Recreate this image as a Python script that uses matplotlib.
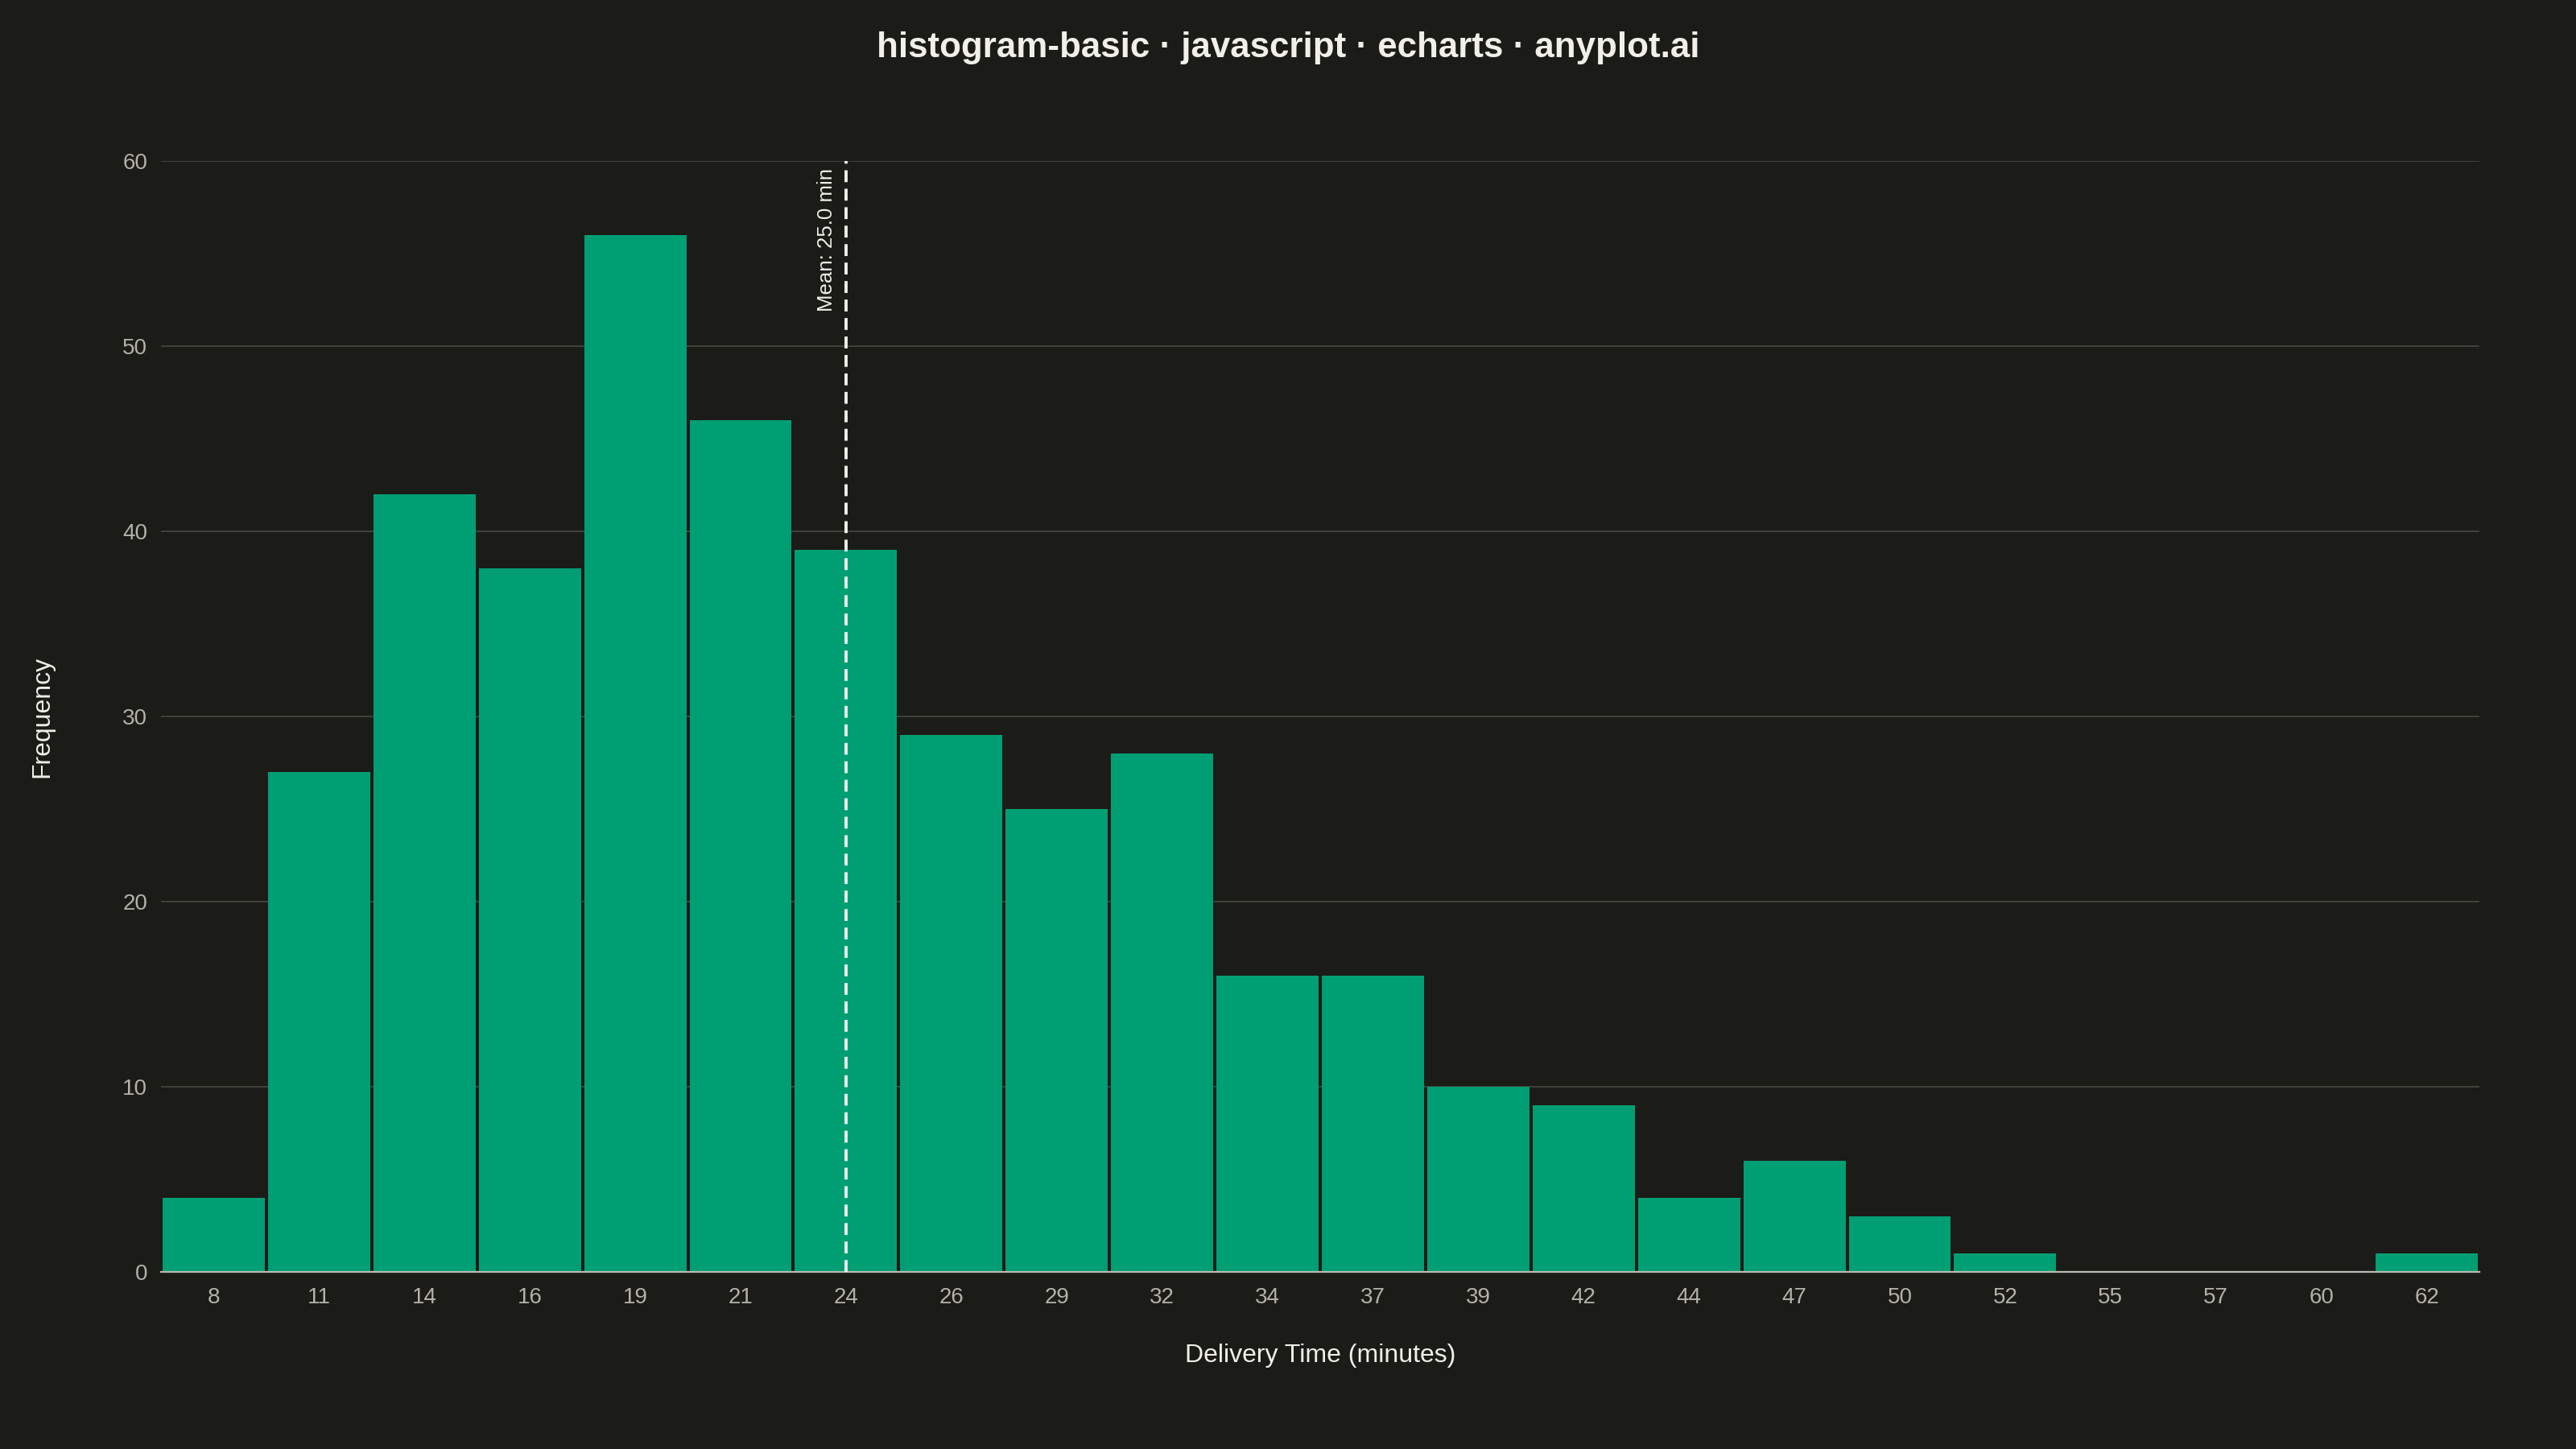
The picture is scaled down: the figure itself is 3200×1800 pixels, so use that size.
import matplotlib
matplotlib.use("Agg")
import matplotlib.pyplot as plt
import numpy as np

bin_labels = ["8", "11", "14", "16", "19", "21", "24", "26", "29", "32", "34",
              "37", "39", "42", "44", "47", "50", "52", "55", "57", "60", "62"]
frequencies = [4, 27, 42, 38, 56, 46, 39, 29, 25, 28, 16,
               16, 10, 9, 4, 6, 3, 1, 0, 0, 0, 1]
mean_value = 25.0
mean_bin_label = "24"
y_ticks = [0, 10, 20, 30, 40, 50, 60]

BG = "#1b1b17"
BAR = "#009E73"
TEXT = "#f0efe8"
TICK = "#b3b1a9"
GRID = "#42423d"
AXIS = "#bcbab2"

plt.rcParams['font.family'] = ['Liberation Sans', 'DejaVu Sans']

fig = plt.figure(figsize=(16, 9), dpi=200, facecolor=BG)
ax = fig.add_axes([0.0625, 0.1222, 0.9, 0.7667], facecolor=BG)

x = np.arange(len(bin_labels))
ax.bar(x, frequencies, width=0.97, color=BAR, zorder=3)

ax.set_xlim(-0.5, len(bin_labels) - 0.5)
ax.set_ylim(0, 60)
ax.set_yticks(y_ticks)
ax.set_yticklabels([str(t) for t in y_ticks])
ax.set_xticks(x)
ax.set_xticklabels(bin_labels)
ax.tick_params(axis='both', length=0, colors=TICK, labelsize=10)
ax.tick_params(axis='x', pad=7)
ax.tick_params(axis='y', pad=6)

for t in y_ticks[1:]:
    ax.axhline(t, color=GRID, linewidth=0.7, zorder=1)

for s in ['top', 'right', 'left']:
    ax.spines[s].set_visible(False)
ax.spines['bottom'].set_color(AXIS)
ax.spines['bottom'].set_linewidth(0.8)
ax.spines['bottom'].set_zorder(4)

mi = bin_labels.index(mean_bin_label)
ax.plot([mi, mi], [0, 60], color=TEXT, linewidth=1.4, linestyle=(0, (3.8, 2.1)), zorder=5)
ax.text(mi - 0.09, 59.6, f"Mean: {mean_value:.1f} min", rotation=90, color=TEXT,
        fontsize=9.3, ha='right', va='top', zorder=6)

fig.text(0.5, 0.967, "histogram-basic · javascript · echarts · anyplot.ai",
         ha='center', va='center', color=TEXT, fontsize=15.8, fontweight='bold')
fig.text(0.5125, 0.0645, "Delivery Time (minutes)", ha='center', va='center',
         color=TEXT, fontsize=11.5)
fig.text(0.0165, 0.5055, "Frequency", ha='center', va='center', rotation=90,
         color=TEXT, fontsize=11.5)

fig.savefig("out.png", dpi=200, facecolor=BG)
